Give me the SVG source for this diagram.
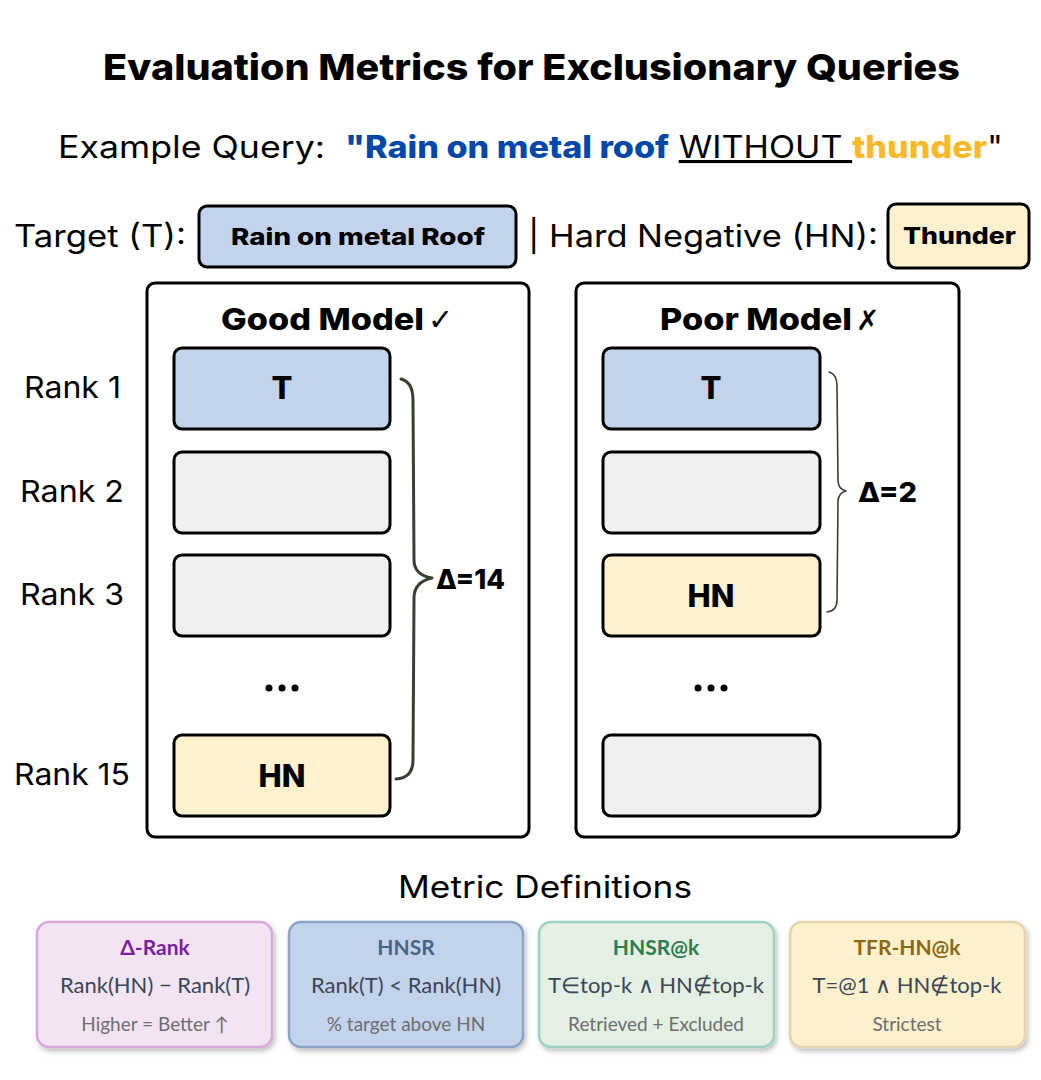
<svg xmlns="http://www.w3.org/2000/svg" width="1041" height="1080" viewBox="0 0 1041 1080">
<defs>
<style>
.p{font-family:Inter,"Open Sans","Liberation Sans",sans-serif;fill:#000}
.b{font-weight:700}
.x{font-weight:800}
.r{font-weight:400}
.box{stroke:#000;stroke-width:3}
.t{fill:#C2D3EB}
.hn{fill:#FEF2CE}
.g{fill:#F0F0F0}
.panel{fill:#fff;stroke:#000;stroke-width:3}
.brace{fill:none;stroke:#36422E;stroke-linecap:round;stroke-linejoin:round}
.m{font-family:Lato,"Open Sans","Liberation Sans",sans-serif;text-anchor:middle}
.mt{font-size:21px;font-weight:700}
.mf{font-size:22px;fill:#3A4756}
.ms{font-size:19px;fill:#6E6E6E}
.sym{font-family:"DejaVu Sans",sans-serif;font-weight:400}
</style>
<filter id="sh" x="-10%" y="-10%" width="125%" height="130%">
<feDropShadow dx="2" dy="3" stdDeviation="2.5" flood-color="#000" flood-opacity="0.25"/>
</filter>
</defs>
<rect width="1041" height="1080" fill="#fff"/>

<g id="title">
<text class="p x" x="103" y="80" font-size="36" textLength="857" lengthAdjust="spacingAndGlyphs">Evaluation Metrics for Exclusionary Queries</text>
</g>

<g id="query">
<text class="p r" x="58" y="158" font-size="31" textLength="267" lengthAdjust="spacingAndGlyphs">Example Query:</text>
<text class="p r" x="345" y="158" font-size="31" textLength="658" lengthAdjust="spacingAndGlyphs"><tspan class="x" fill="#0047AB">"Rain on metal roof</tspan> <tspan text-decoration="underline" fill="#000">WITHOUT </tspan><tspan class="x" fill="#FDB827">thunder</tspan><tspan fill="#000">"</tspan></text>
</g>

<g id="legend">
<text class="p r" x="14" y="247" font-size="31" textLength="172" lengthAdjust="spacingAndGlyphs">Target (T):</text>
<rect class="box t" x="199" y="206" width="317" height="61" rx="8"/>
<text class="p x" x="231" y="245" font-size="23" textLength="254" lengthAdjust="spacingAndGlyphs">Rain on metal Roof</text>
<text class="p r" x="528" y="247" font-size="31" textLength="350" lengthAdjust="spacingAndGlyphs">| Hard Negative (HN):</text>
<rect class="box hn" x="888" y="204" width="141" height="64" rx="8"/>
<text class="p x" x="903" y="244" font-size="23" textLength="113" lengthAdjust="spacingAndGlyphs">Thunder</text>
</g>

<g id="ranks">
<text class="p r" x="24" y="398" font-size="30" textLength="97" lengthAdjust="spacingAndGlyphs">Rank 1</text>
<text class="p r" x="20" y="502" font-size="30" textLength="104" lengthAdjust="spacingAndGlyphs">Rank 2</text>
<text class="p r" x="20" y="605" font-size="30" textLength="104" lengthAdjust="spacingAndGlyphs">Rank 3</text>
<text class="p r" x="14" y="785" font-size="30" textLength="116" lengthAdjust="spacingAndGlyphs">Rank 15</text>
</g>

<g id="good-model">
<rect class="panel" x="147" y="283" width="382" height="554" rx="8"/>
<text class="p x" x="221" y="330" font-size="30" textLength="203" lengthAdjust="spacingAndGlyphs">Good Model</text>
<text class="sym" x="428" y="330" font-size="30">✓</text>
<rect class="box t" x="174" y="348" width="216" height="81" rx="8"/>
<text class="p x" x="282" y="399" font-size="31" text-anchor="middle">T</text>
<rect class="box g" x="174" y="452" width="216" height="81" rx="8"/>
<rect class="box g" x="174" y="555" width="216" height="81" rx="8"/>
<g fill="#000"><circle cx="269" cy="688" r="3.5"/><circle cx="282" cy="688" r="3.5"/><circle cx="295" cy="688" r="3.5"/></g>
<rect class="box hn" x="174" y="735" width="216" height="81" rx="8"/>
<text class="p x" x="282" y="787" font-size="31" text-anchor="middle">HN</text>
</g>

<g id="poor-model">
<rect class="panel" x="576" y="283" width="383" height="554" rx="8"/>
<text class="p x" x="660" y="330" font-size="30" textLength="192" lengthAdjust="spacingAndGlyphs">Poor Model</text>
<text class="sym" x="856" y="330" font-size="28" font-style="italic">✗</text>
<rect class="box t" x="603" y="348" width="217" height="81" rx="8"/>
<text class="p x" x="711" y="399" font-size="31" text-anchor="middle">T</text>
<rect class="box g" x="603" y="452" width="217" height="81" rx="8"/>
<rect class="box hn" x="603" y="555" width="217" height="81" rx="8"/>
<text class="p x" x="711" y="607" font-size="31" text-anchor="middle">HN</text>
<g fill="#000"><circle cx="698" cy="688" r="3.5"/><circle cx="711" cy="688" r="3.5"/><circle cx="724" cy="688" r="3.5"/></g>
<rect class="box g" x="603" y="735" width="217" height="81" rx="8"/>
</g>

<g id="connectors">
<path class="brace" stroke-width="3" d="M401,379 Q413,382 413,400 L414,560 Q414,575 432,578 Q414,582 414,598 L413,760 Q413,778 396,779"/>
<text class="p x" x="436" y="589" font-size="27" textLength="69" lengthAdjust="spacingAndGlyphs">Δ=14</text>
<path class="brace" stroke-width="1.6" d="M829,372 Q837,374 837,386 L838,480 Q838,489 846,491 Q838,493 838,502 L837,600 Q837,611 827,612"/>
<text class="p x" x="858" y="502" font-size="27" textLength="59" lengthAdjust="spacingAndGlyphs">Δ=2</text>
</g>

<g id="metrics-title">
<text class="p r" x="398" y="898" font-size="31" textLength="294" lengthAdjust="spacingAndGlyphs">Metric Definitions</text>
</g>

<g id="metric-delta-rank">
<rect x="37" y="922" width="235" height="125" rx="12" fill="#F3E4F4" stroke="#D9A8DA" stroke-width="2.5" filter="url(#sh)"/>
<text class="m mt" x="155" y="955" fill="#7B1FA2">Δ-Rank</text>
<text class="m mf" x="155" y="993">Rank(HN) − Rank(T)</text>
<text class="m ms" x="155" y="1031">Higher = Better ↑</text>
</g>
<g id="metric-hnsr">
<rect x="289" y="922" width="234" height="125" rx="12" fill="#C3D3EB" stroke="#8AA5C8" stroke-width="2.5" filter="url(#sh)"/>
<text class="m mt" x="406" y="955" fill="#4A6584">HNSR</text>
<text class="m mf" x="406" y="993">Rank(T) &lt; Rank(HN)</text>
<text class="m ms" x="406" y="1031">% target above HN</text>
</g>
<g id="metric-hnsr-k">
<rect x="539" y="922" width="235" height="125" rx="12" fill="#E3F0E3" stroke="#9CD3BE" stroke-width="2.5" filter="url(#sh)"/>
<text class="m mt" x="656" y="955" fill="#2E7D4F">HNSR@k</text>
<text class="m mf" x="656" y="993">T∈top-k ∧ HN∉top-k</text>
<text class="m ms" x="656" y="1031">Retrieved + Excluded</text>
</g>
<g id="metric-tfr">
<rect x="790" y="922" width="235" height="125" rx="12" fill="#FDF0CD" stroke="#E6D3B0" stroke-width="2.5" filter="url(#sh)"/>
<text class="m mt" x="907" y="955" fill="#8B6914">TFR-HN@k</text>
<text class="m mf" x="907" y="993">T=@1 ∧ HN∉top-k</text>
<text class="m ms" x="907" y="1031">Strictest</text>
</g>
</svg>
